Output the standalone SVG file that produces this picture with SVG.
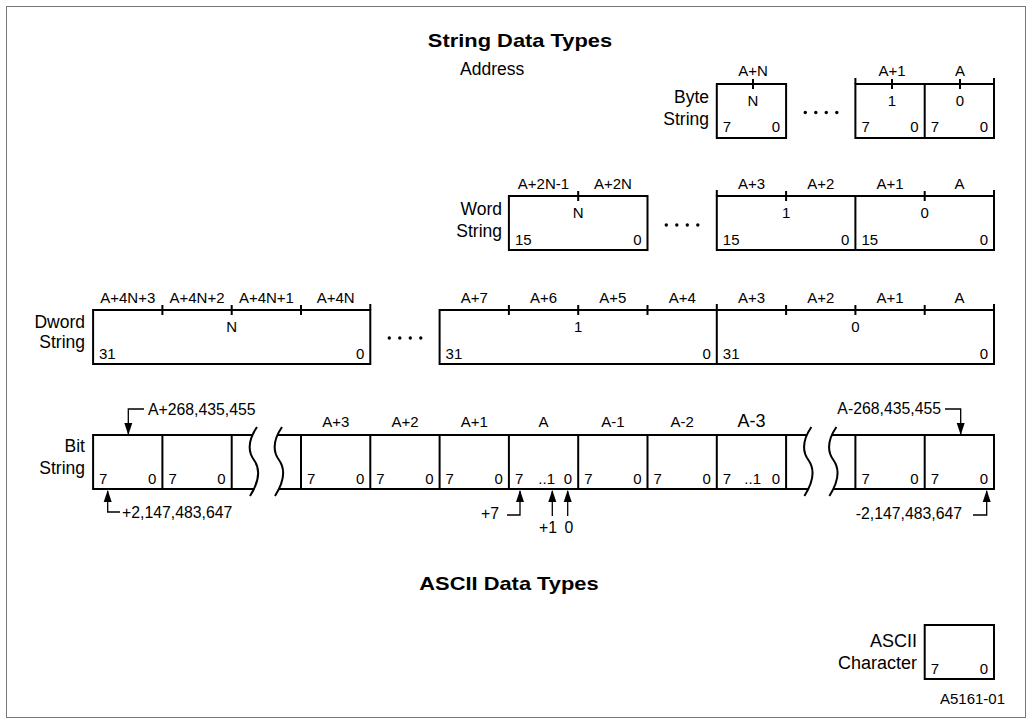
<svg xmlns="http://www.w3.org/2000/svg" width="1032" height="724" viewBox="0 0 1032 724">
<defs>
<style>
text{font-family:"Liberation Sans",Arial,sans-serif;fill:#000}
.x{font-size:15px}
.an{font-size:15.8px}
.m{text-anchor:middle}
.s{text-anchor:start}
.e{text-anchor:end}
.big{font-size:18px}
.lbl{font-size:17.5px;text-anchor:end}
.ttl{font-size:17.5px;font-weight:bold;text-anchor:middle;transform-box:fill-box;transform-origin:center;transform:scaleX(1.25)}
.box{fill:#fff;stroke:#000;stroke-width:2}
.ln{fill:none;stroke:#000;stroke-width:2}
.cn{fill:none;stroke:#000;stroke-width:1.3}
.dot{fill:#000}
</style>
</defs>
<rect x="0" y="0" width="1032" height="724" fill="#fff"/>
<rect x="6.5" y="6.5" width="1019" height="711" fill="none" stroke="#777" stroke-width="1"/>

<g id="titles">
<text class="ttl" x="520" y="47">String Data Types</text>
<text style="font-size:17.5px" x="460" y="75">Address</text>
<text class="ttl" x="509" y="590">ASCII Data Types</text>
<text class="x e" x="1005" y="704">A5161-01</text>
</g>

<g id="byte-string">
<rect class="box" x="716.8" y="84" width="69.3" height="54"/>
<rect class="box" x="855.4" y="84" width="138.6" height="54"/>
<path class="ln" d="M924.7,84V138M753,79V89M892,79V89M960,79V89M855.4,78V84M994,78V84"/>
<circle class="dot" cx="805.3" cy="112.5" r="1.7"/><circle class="dot" cx="815.8" cy="112.5" r="1.7"/><circle class="dot" cx="826.3" cy="112.5" r="1.7"/><circle class="dot" cx="836.8" cy="112.5" r="1.7"/>
<text class="lbl" x="709" y="103">Byte</text>
<text class="lbl" x="709" y="125">String</text>
<text class="x m" x="753" y="76">A+N</text>
<text class="x m" x="892" y="76">A+1</text>
<text class="x m" x="960" y="76">A</text>
<text class="x m" x="753" y="106">N</text>
<text class="x m" x="892" y="106">1</text>
<text class="x m" x="960" y="106">0</text>
<text class="x s" x="722.8" y="132">7</text><text class="x e" x="780" y="132">0</text>
<text class="x s" x="861.4" y="132">7</text><text class="x e" x="918.7" y="132">0</text>
<text class="x s" x="930.7" y="132">7</text><text class="x e" x="988" y="132">0</text>
</g>

<g id="word-string">
<rect class="box" x="508.9" y="196" width="138.6" height="54"/>
<rect class="box" x="716.8" y="196" width="277.2" height="54"/>
<path class="ln" d="M855.4,196V250M578.2,191V201M786.1,191V201M924.7,191V201M716.8,190V196M994,190V196"/>
<circle class="dot" cx="666.3" cy="225" r="1.7"/><circle class="dot" cx="676.8" cy="225" r="1.7"/><circle class="dot" cx="687.3" cy="225" r="1.7"/><circle class="dot" cx="697.8" cy="225" r="1.7"/>
<text class="lbl" x="502" y="215">Word</text>
<text class="lbl" x="502" y="237">String</text>
<text class="x m" x="543.5" y="189">A+2N-1</text>
<text class="x m" x="612.9" y="189">A+2N</text>
<text class="x m" x="751.5" y="189">A+3</text>
<text class="x m" x="820.8" y="189">A+2</text>
<text class="x m" x="890" y="189">A+1</text>
<text class="x m" x="959.4" y="189">A</text>
<text class="x m" x="578.2" y="218">N</text>
<text class="x m" x="786.1" y="218">1</text>
<text class="x m" x="924.7" y="218">0</text>
<text class="x s" x="514.9" y="245">15</text><text class="x e" x="641.5" y="245">0</text>
<text class="x s" x="722.8" y="245">15</text><text class="x e" x="849.4" y="245">0</text>
<text class="x s" x="861.4" y="245">15</text><text class="x e" x="988" y="245">0</text>
</g>

<g id="dword-string">
<rect class="box" x="93.1" y="310" width="277.2" height="54"/>
<rect class="box" x="439.6" y="310" width="554.4" height="54"/>
<path class="ln" d="M716.8,304V364M162.4,305V315M231.7,305V315M301,305V315M370.3,304V310M508.9,305V315M578.2,305V315M647.5,305V315M786.1,305V315M855.4,305V315M924.7,305V315M994,304V310"/>
<circle class="dot" cx="389.3" cy="338" r="1.7"/><circle class="dot" cx="399.8" cy="338" r="1.7"/><circle class="dot" cx="410.3" cy="338" r="1.7"/><circle class="dot" cx="420.8" cy="338" r="1.7"/>
<text class="lbl" x="85" y="327.5">Dword</text>
<text class="lbl" x="85" y="348">String</text>
<text class="x m" x="127.8" y="303">A+4N+3</text>
<text class="x m" x="197" y="303">A+4N+2</text>
<text class="x m" x="266.4" y="303">A+4N+1</text>
<text class="x m" x="335.7" y="303">A+4N</text>
<text class="x m" x="474.3" y="303">A+7</text>
<text class="x m" x="543.5" y="303">A+6</text>
<text class="x m" x="612.9" y="303">A+5</text>
<text class="x m" x="682.2" y="303">A+4</text>
<text class="x m" x="751.5" y="303">A+3</text>
<text class="x m" x="820.8" y="303">A+2</text>
<text class="x m" x="890" y="303">A+1</text>
<text class="x m" x="959.4" y="303">A</text>
<text class="x m" x="231.7" y="332">N</text>
<text class="x m" x="578.2" y="332">1</text>
<text class="x m" x="855.4" y="332">0</text>
<text class="x s" x="99" y="359">31</text><text class="x e" x="364.3" y="359">0</text>
<text class="x s" x="445.6" y="359">31</text><text class="x e" x="710.8" y="359">0</text>
<text class="x s" x="722.8" y="359">31</text><text class="x e" x="988" y="359">0</text>
</g>

<g id="bit-string">
<rect class="box" x="93.1" y="435" width="138.6" height="54"/>
<rect class="box" x="301" y="435" width="485.1" height="54"/>
<rect class="box" x="855.4" y="435" width="138.6" height="54"/>
<path class="ln" d="M162.4,435V489M370.3,435V489M439.6,435V489M508.9,435V489M578.2,435V489M647.5,435V489M716.8,435V489M924.7,435V489"/>
<path class="ln" d="M231.7,435H252M277,435H301M231.7,489H254M279,489H301M786.1,435H806.4M831.4,435H855.4M786.1,489H808.4M833.4,489H855.4"/>
<path class="ln" d="M257,427Q244,446 254,460Q264,474 250,496M282,427Q269,446 279,460Q289,474 275,496M811.4,427Q798.4,446 808.4,460Q818.4,474 804.4,496M836.4,427Q823.4,446 833.4,460Q843.4,474 829.4,496"/>
<text class="lbl" x="85" y="452">Bit</text>
<text class="lbl" x="85" y="474">String</text>
<text class="x m" x="335.7" y="427">A+3</text>
<text class="x m" x="405" y="427">A+2</text>
<text class="x m" x="474.3" y="427">A+1</text>
<text class="x m" x="543.5" y="427">A</text>
<text class="x m" x="612.9" y="427">A-1</text>
<text class="x m" x="682.2" y="427">A-2</text>
<text class="x m big" x="751.5" y="427">A-3</text>
<text class="x s" x="99.1" y="484">7</text><text class="x e" x="156.4" y="484">0</text>
<text class="x s" x="168.4" y="484">7</text><text class="x e" x="225.7" y="484">0</text>
<text class="x s" x="307" y="484">7</text><text class="x e" x="364.3" y="484">0</text>
<text class="x s" x="376.3" y="484">7</text><text class="x e" x="433.6" y="484">0</text>
<text class="x s" x="445.6" y="484">7</text><text class="x e" x="502.9" y="484">0</text>
<text class="x s" x="514.9" y="484">7</text><text class="x e" x="555" y="484">..1</text><text class="x e" x="572.2" y="484">0</text>
<text class="x s" x="584.2" y="484">7</text><text class="x e" x="641.5" y="484">0</text>
<text class="x s" x="653.5" y="484">7</text><text class="x e" x="710.8" y="484">0</text>
<text class="x s" x="722.8" y="484">7</text><text class="x e" x="761" y="484">..1</text><text class="x e" x="780.1" y="484">0</text>
<text class="x s" x="861.4" y="484">7</text><text class="x e" x="918.7" y="484">0</text>
<text class="x s" x="930.7" y="484">7</text><text class="x e" x="988" y="484">0</text>
<text class="an s" x="148" y="415">A+268,435,455</text>
<text class="an s" x="122" y="518">+2,147,483,647</text>
<text class="an e" x="941" y="414">A-268,435,455</text>
<text class="an e" x="962" y="519">-2,147,483,647</text>
<text class="an e" x="499" y="519">+7</text>
<text class="an m" x="548" y="533">+1</text>
<text class="an m" x="569" y="533">0</text>
</g>

<g id="connectors">
<path class="cn" d="M144,409H128.3V434"/>
<path d="M124.3,423L128.3,435L132.3,423Z"/>
<path class="cn" d="M945,409H960.7V434"/>
<path d="M956.7,423L960.7,435L964.7,423Z"/>
<path class="cn" d="M120,512H107.7V491"/>
<path d="M103.7,502L107.7,490L111.7,502Z"/>
<path class="cn" d="M973,515H986.7V491"/>
<path d="M982.7,502L986.7,490L990.7,502Z"/>
<path class="cn" d="M507,515H520V491"/>
<path d="M516,502L520,490L524,502Z"/>
<path class="cn" d="M552.3,516V491"/>
<path d="M548.3,502L552.3,490L556.3,502Z"/>
<path class="cn" d="M567.7,516V491"/>
<path d="M563.7,502L567.7,490L571.7,502Z"/>
</g>

<g id="ascii-character">
<rect class="box" x="924.7" y="625" width="69.3" height="54"/>
<text class="lbl" style="font-size:18px" x="917" y="647">ASCII</text>
<text class="lbl" style="font-size:18px" x="917" y="668.5">Character</text>
<text class="x s" x="930.7" y="674">7</text><text class="x e" x="988" y="674">0</text>
</g>
</svg>
